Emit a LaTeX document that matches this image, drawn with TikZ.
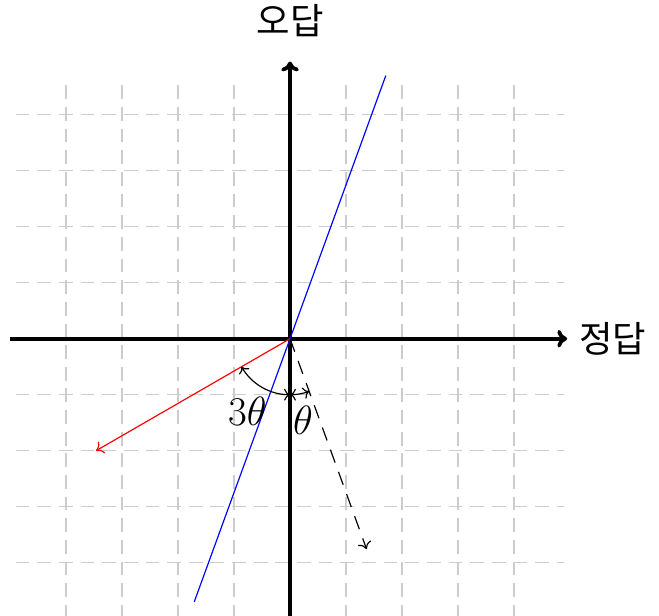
\documentclass[tikz,border=0pt]{standalone}
\usepackage{fontspec}
\newfontfamily\krfont{Noto Sans CJK KR}
\usetikzlibrary{arrows.meta}
\begin{document}
\begin{tikzpicture}[
  gridline/.style={gray!40, line width=0.6pt, dash pattern=on 7pt off 4pt},
  axisline/.style={line width=1.9pt, -{To[length=5pt,width=9pt]}},
  thinline/.style={line width=0.6pt},
  krlabel/.style={font=\krfont\fontsize{18.5}{22}\selectfont, inner sep=1pt},
  mathlabel/.style={font=\fontsize{20.74}{24}\selectfont, inner sep=0pt},
  tipstyle/.style={-{To[length=3.5pt,width=7pt]}},
]
\useasboundingbox (-5.18,-4.95) rectangle (6.59,6.05);
% grid
\foreach \x in {-4,...,4} \draw[gridline] (\x,-5) -- (\x,4.6);
\foreach \y in {-4,...,4} \draw[gridline] (-4.9,\y) -- (4.9,\y);
% coordinates
\coordinate (O) at (0,0);
\coordinate (xs) at (-5,0);
\coordinate (xe) at (4.95,0);
\coordinate (ys) at (0,-5);
\coordinate (ye) at (0,4.95);
\coordinate (b1) at (250:5);
\coordinate (b2) at (70:5);
\coordinate (r) at (210:4);
\coordinate (d) at (290:4);
\coordinate (a0) at (270:1);
% axes
\draw[axisline] (xs) -- (xe);
\draw[axisline] (ys) -- (ye);
\node[krlabel, anchor=west] (xl) at (5.12,0) {정답};
\node[krlabel] (yl) at (0,5.68) {오답};
% lines
\draw[thinline, blue] (b1) -- (b2);
\draw[thinline, red, tipstyle] (O) -- (r);
\draw[thinline, tipstyle, dash pattern=on 7pt off 5pt] (O) -- (d);
% arcs
\draw[thinline, {To[length=3pt,width=6pt]}-{To[length=3pt,width=6pt]}] (a0) arc (270:210:1);
\draw[thinline, {To[length=3pt,width=6pt]}-{To[length=3pt,width=6pt]}] (a0) arc (270:290:1);
\node[mathlabel] (t3) at (-0.76,-1.3) {$3\theta$};
\node[mathlabel] (t1) at (0.23,-1.46) {$\theta$};
\end{tikzpicture}
\end{document}
